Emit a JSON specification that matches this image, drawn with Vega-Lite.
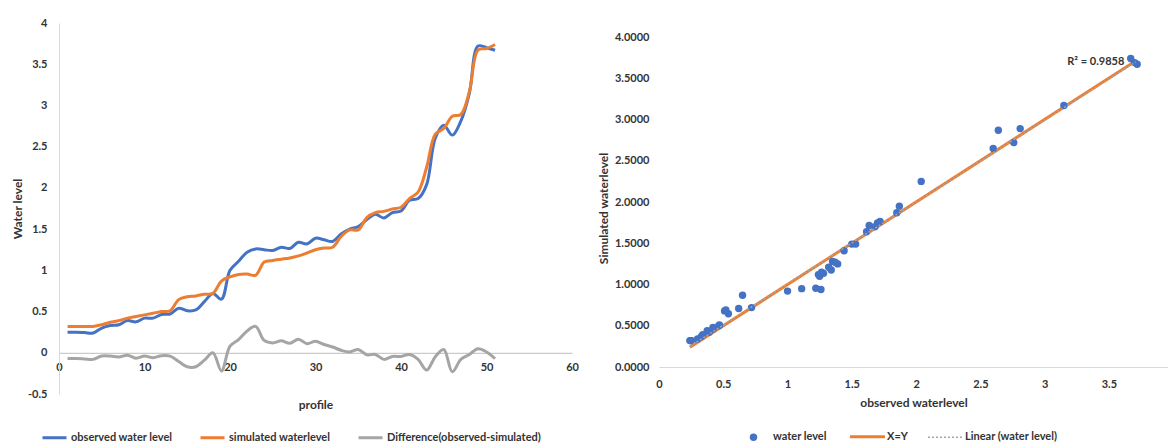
{
  "$schema": "https://vega.github.io/schema/vega-lite/v6.json",
  "padding": {"left": 11, "top": 17, "right": 0, "bottom": 0},
  "background": "white",
  "datasets": {
    "profiles": [
      {"profile": 1, "observed": 0.25, "simulated": 0.32, "difference": -0.07},
      {"profile": 2, "observed": 0.25, "simulated": 0.32, "difference": -0.07},
      {"profile": 3, "observed": 0.245, "simulated": 0.32, "difference": -0.075},
      {"profile": 4, "observed": 0.24, "simulated": 0.32, "difference": -0.08},
      {"profile": 5, "observed": 0.30, "simulated": 0.34, "difference": -0.04},
      {"profile": 6, "observed": 0.33, "simulated": 0.37, "difference": -0.04},
      {"profile": 7, "observed": 0.34, "simulated": 0.39, "difference": -0.05},
      {"profile": 8, "observed": 0.39, "simulated": 0.42, "difference": -0.03},
      {"profile": 9, "observed": 0.375, "simulated": 0.44, "difference": -0.065},
      {"profile": 10, "observed": 0.42, "simulated": 0.46, "difference": -0.04},
      {"profile": 11, "observed": 0.42, "simulated": 0.48, "difference": -0.06},
      {"profile": 12, "observed": 0.465, "simulated": 0.50, "difference": -0.035},
      {"profile": 13, "observed": 0.47, "simulated": 0.51, "difference": -0.04},
      {"profile": 14, "observed": 0.54, "simulated": 0.645, "difference": -0.105},
      {"profile": 15, "observed": 0.51, "simulated": 0.68, "difference": -0.17},
      {"profile": 16, "observed": 0.52, "simulated": 0.69, "difference": -0.17},
      {"profile": 17, "observed": 0.62, "simulated": 0.71, "difference": -0.09},
      {"profile": 18, "observed": 0.72, "simulated": 0.72, "difference": 0.0},
      {"profile": 19, "observed": 0.65, "simulated": 0.87, "difference": -0.22},
      {"profile": 20, "observed": 1.0, "simulated": 0.92, "difference": 0.08},
      {"profile": 21, "observed": 1.11, "simulated": 0.95, "difference": 0.16},
      {"profile": 22, "observed": 1.22, "simulated": 0.955, "difference": 0.265},
      {"profile": 23, "observed": 1.26, "simulated": 0.94, "difference": 0.32},
      {"profile": 24, "observed": 1.25, "simulated": 1.10, "difference": 0.15},
      {"profile": 25, "observed": 1.24, "simulated": 1.12, "difference": 0.12},
      {"profile": 26, "observed": 1.28, "simulated": 1.135, "difference": 0.145},
      {"profile": 27, "observed": 1.265, "simulated": 1.15, "difference": 0.115},
      {"profile": 28, "observed": 1.34, "simulated": 1.175, "difference": 0.165},
      {"profile": 29, "observed": 1.32, "simulated": 1.21, "difference": 0.11},
      {"profile": 30, "observed": 1.39, "simulated": 1.25, "difference": 0.14},
      {"profile": 31, "observed": 1.37, "simulated": 1.27, "difference": 0.10},
      {"profile": 32, "observed": 1.35, "simulated": 1.28, "difference": 0.07},
      {"profile": 33, "observed": 1.44, "simulated": 1.41, "difference": 0.03},
      {"profile": 34, "observed": 1.50, "simulated": 1.49, "difference": 0.01},
      {"profile": 35, "observed": 1.53, "simulated": 1.49, "difference": 0.04},
      {"profile": 36, "observed": 1.615, "simulated": 1.64, "difference": -0.025},
      {"profile": 37, "observed": 1.68, "simulated": 1.70, "difference": -0.02},
      {"profile": 38, "observed": 1.635, "simulated": 1.715, "difference": -0.08},
      {"profile": 39, "observed": 1.70, "simulated": 1.745, "difference": -0.045},
      {"profile": 40, "observed": 1.72, "simulated": 1.765, "difference": -0.045},
      {"profile": 41, "observed": 1.85, "simulated": 1.87, "difference": -0.02},
      {"profile": 42, "observed": 1.87, "simulated": 1.95, "difference": -0.08},
      {"profile": 43, "observed": 2.04, "simulated": 2.25, "difference": -0.21},
      {"profile": 44, "observed": 2.60, "simulated": 2.65, "difference": -0.05},
      {"profile": 45, "observed": 2.76, "simulated": 2.72, "difference": 0.04},
      {"profile": 46, "observed": 2.64, "simulated": 2.87, "difference": -0.23},
      {"profile": 47, "observed": 2.81, "simulated": 2.89, "difference": -0.08},
      {"profile": 48, "observed": 3.15, "simulated": 3.17, "difference": -0.02},
      {"profile": 49, "observed": 3.72, "simulated": 3.67, "difference": 0.05},
      {"profile": 50, "observed": 3.70, "simulated": 3.69, "difference": 0.01},
      {"profile": 51, "observed": 3.67, "simulated": 3.74, "difference": -0.07}
    ],
    "xyline": [
      {"observed": 0.24, "simulated": 0.24},
      {"observed": 3.69, "simulated": 3.69}
    ],
    "trend": [
      {"observed": 0.24, "simulated": 0.25},
      {"observed": 3.71, "simulated": 3.70}
    ],
    "rsq": [
      {"observed": 3.62, "simulated": 3.70, "label": "R² = 0.9858"}
    ]
  },
  "spacing": 18,
  "resolve": {
    "scale": {"x": "independent", "y": "independent", "color": "independent"},
    "legend": {"color": "independent"},
    "axis": {"x": "independent", "y": "independent"}
  },
  "hconcat": [
    {
      "width": 513,
      "height": 371,
      "data": {"name": "profiles"},
      "layer": [
        {
          "mark": {"type": "line", "strokeWidth": 3, "interpolate": "catmull-rom"},
          "encoding": {
            "x": {
              "field": "profile", "type": "quantitative",
              "scale": {"domain": [0, 60], "nice": false},
              "axis": {"values": [0, 10, 20, 30, 40, 50, 60], "offset": -41.2, "domainColor": "#bfbfbf", "domainWidth": 1, "labelPadding": 9, "title": "profile", "titlePadding": 27}
            },
            "y": {
              "field": "observed", "type": "quantitative",
              "scale": {"domain": [-0.5, 4], "nice": false, "zero": false},
              "axis": {"values": [-0.5, 0, 0.5, 1, 1.5, 2, 2.5, 3, 3.5, 4], "format": "~f", "domainColor": "#d9d9d9", "labelPadding": 12, "title": "Water level", "titlePadding": 3}
            },
            "color": {
              "datum": "observed water level",
              "scale": {"domain": ["observed water level", "simulated waterlevel", "Difference(observed-simulated)"], "range": ["#4472C4", "#ED7D31", "#A5A5A5"]},
              "legend": {"orient": "none", "legendX": -18, "legendY": 401, "direction": "horizontal", "title": null, "symbolType": "stroke", "symbolSize": 576, "symbolStrokeWidth": 3, "columnPadding": 21, "labelOffset": 3}
            }
          }
        },
        {
          "mark": {"type": "line", "strokeWidth": 3, "interpolate": "catmull-rom"},
          "encoding": {
            "x": {"field": "profile", "type": "quantitative"},
            "y": {"field": "simulated", "type": "quantitative"},
            "color": {"datum": "simulated waterlevel"}
          }
        },
        {
          "mark": {"type": "line", "strokeWidth": 3, "interpolate": "catmull-rom"},
          "encoding": {
            "x": {"field": "profile", "type": "quantitative"},
            "y": {"field": "difference", "type": "quantitative"},
            "color": {"datum": "Difference(observed-simulated)"}
          }
        }
      ]
    },
    {
      "width": 509,
      "height": 344,
      "layer": [
        {
          "mark": {"type": "rule", "color": "#d9d9d9", "strokeWidth": 1},
          "encoding": {
            "x": {"datum": 0, "type": "quantitative",
              "scale": {"domain": [0, 3.96], "nice": false},
              "axis": {"values": [0, 0.5, 1, 1.5, 2, 2.5, 3, 3.5], "format": "~f", "domainColor": "#d9d9d9", "labelPadding": 11, "title": "observed waterlevel", "titlePadding": 8}
            },
            "y": {"datum": 0, "type": "quantitative",
              "scale": {"domain": [0, 4.17], "nice": false},
              "axis": {"values": [0, 0.5, 1, 1.5, 2, 2.5, 3, 3.5, 4], "format": ".4f", "domain": false, "labelPadding": 10, "title": "Simulated waterlevel", "titlePadding": 4, "titleY": 185}
            },
            "y2": {"datum": 4}
          }
        },
        {
          "data": {"name": "xyline"},
          "mark": {"type": "line", "strokeWidth": 3},
          "encoding": {
            "x": {"field": "observed", "type": "quantitative"},
            "y": {"field": "simulated", "type": "quantitative"},
            "color": {
              "datum": "X=Y",
              "scale": {"domain": ["water level", "X=Y", "Linear (water level)"], "range": ["#4472C4", "#ED7D31", "#A5A5A5"]},
              "legend": {
                "orient": "none", "legendX": 76, "legendY": 395, "direction": "horizontal", "title": null,
                "symbolSize": 1225, "symbolStrokeWidth": 3, "columnPadding": 17, "labelOffset": 1,
                "encode": {
                  "symbols": {
                    "update": {
                      "shape": {"signal": "(datum.value === 'water level' ? 'circle' : 'stroke')"},
                      "size": {"signal": "(datum.value === 'water level' ? 55 : 1225)"},
                      "strokeDash": {"signal": "(datum.value === 'Linear (water level)' ? [2, 2] : [1, 0])"},
                      "strokeWidth": {"signal": "(datum.value === 'water level' ? 0 : (datum.value === 'X=Y' ? 3 : 1.5))"},
                      "fill": {"signal": "(datum.value === 'water level' ? '#4472C4' : 'transparent')"},
                      "stroke": {"signal": "(datum.value === 'water level' ? '#4472C4' : (datum.value === 'X=Y' ? '#ED7D31' : '#A5A5A5'))"},
                      "opacity": {"value": 1}
                    }
                  }
                }
              }
            }
          }
        },
        {
          "data": {"name": "profiles"},
          "mark": {"type": "point", "filled": true, "size": 55, "opacity": 1},
          "encoding": {
            "x": {"field": "observed", "type": "quantitative"},
            "y": {"field": "simulated", "type": "quantitative"},
            "color": {"datum": "water level"}
          }
        },
        {
          "data": {"name": "trend"},
          "mark": {"type": "line", "strokeWidth": 1.5, "strokeDash": [2, 2]},
          "encoding": {
            "x": {"field": "observed", "type": "quantitative"},
            "y": {"field": "simulated", "type": "quantitative"},
            "color": {"datum": "Linear (water level)"}
          }
        },
        {
          "data": {"name": "rsq"},
          "mark": {"type": "text", "align": "right", "baseline": "middle", "font": "Lato", "fontSize": 11, "fontWeight": "bold", "color": "#333333"},
          "encoding": {
            "x": {"field": "observed", "type": "quantitative"},
            "y": {"field": "simulated", "type": "quantitative"},
            "text": {"field": "label"}
          }
        }
      ]
    }
  ],
  "config": {
    "view": {"stroke": null},
    "font": "Lato",
    "axis": {
      "labelFont": "Lato", "labelFontSize": 11, "labelFontWeight": "bold", "labelColor": "#333333",
      "titleFont": "Lato", "titleFontSize": 12, "titleFontWeight": "bold", "titleColor": "#333333",
      "grid": false, "ticks": false, "labelFlush": false
    },
    "legend": {"labelFont": "Lato", "labelFontSize": 11, "labelFontWeight": "bold", "labelColor": "#333333"},
    "locale": {"number": {"decimal": ".", "thousands": ",", "grouping": [3], "currency": ["$", ""], "minus": "-"}}
  }
}
